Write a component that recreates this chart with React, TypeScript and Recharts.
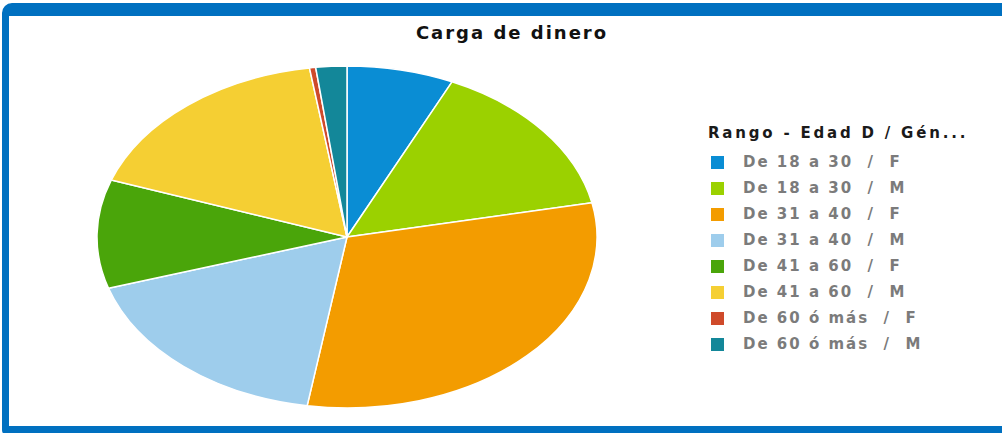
import { PieChart, Pie, Cell, Legend } from "recharts";

const categories = [
  "De 18 a 30 / F",
  "De 18 a 30 / M",
  "De 31 a 40 / F",
  "De 31 a 40 / M",
  "De 41 a 60 / F",
  "De 41 a 60 / M",
  "De 60 ó más / F",
  "De 60 ó más / M",
];
const values = [6.9, 14.9, 30.75, 17.6, 10.25, 17.2, 0.4, 2.0];
const colors = ["#0a8dd4", "#9bd100", "#f39c00", "#9ecdec", "#4aa50a", "#f5cf33", "#cf4a2a", "#138799"];

const data = categories.map((name, i) => ({ name, value: values[i] }));

// stretch the pie horizontally like the original (ellipse instead of circle)
const X_STRETCH = 1.462;

function EllipseSector(props: any) {
  const { cx, cy, outerRadius, startAngle, endAngle, fill } = props;
  const ry = outerRadius;
  const rx = outerRadius * X_STRETCH;
  const rad = Math.PI / 180;
  const x1 = cx + rx * Math.cos(startAngle * rad);
  const y1 = cy - ry * Math.sin(startAngle * rad);
  const x2 = cx + rx * Math.cos(endAngle * rad);
  const y2 = cy - ry * Math.sin(endAngle * rad);
  const large = Math.abs(startAngle - endAngle) > 180 ? 1 : 0;
  const sweep = endAngle < startAngle ? 1 : 0;
  const d = `M${cx},${cy} L${x1},${y1} A${rx},${ry} 0 ${large} ${sweep} ${x2},${y2} Z`;
  return <path d={d} fill={fill} stroke="#ffffff" strokeWidth={1.5} strokeLinejoin="round" />;
}

function LegendBox(props: any) {
  const { payload } = props;
  return (
    <div style={{ fontFamily: "DejaVu Sans", fontWeight: "bold" }}>
      <div style={{ fontSize: 15, color: "#1a1a1a", letterSpacing: 2.8, marginBottom: 7, whiteSpace: "nowrap" }}>
        Rango - Edad D / Gén...
      </div>
      {(payload || []).map((p: any) => (
        <div key={p.value} style={{ display: "flex", alignItems: "center", height: 26 }}>
          <span style={{ width: 13, height: 13, background: p.color, display: "inline-block", marginLeft: 3, marginRight: 19 }} />
          <span style={{ fontSize: 15, color: "#7b7b7b", letterSpacing: 2, whiteSpace: "pre" }}>
            {p.value.replace(" / ", "  /  ")}
          </span>
        </div>
      ))}
    </div>
  );
}

export default function App() {
  return (
    <div style={{ position: "fixed", left: 0, top: 0, width: 1002, height: 433, background: "#ffffff", overflow: "hidden" }}>
      {/* blue frame */}
      <div
        style={{
          position: "absolute",
          left: 2,
          top: 3,
          width: 1100,
          height: 410,
          borderStyle: "solid",
          borderColor: "#0070c0",
          borderWidth: "13px 6px 10px 7px",
          borderTopLeftRadius: 10,
          borderBottomLeftRadius: 6,
        }}
      />
      <div
        style={{
          position: "absolute",
          left: 0,
          width: 1024,
          top: 22,
          textAlign: "center",
          fontFamily: "DejaVu Sans",
          fontWeight: "bold",
          fontSize: 18,
          letterSpacing: 2,
          color: "#111",
        }}
      >
        Carga de dinero
      </div>
      <div style={{ position: "absolute", left: 0, top: 0 }}>
        <PieChart width={1002} height={433} margin={{ top: 0, right: 0, bottom: 0, left: 0 }}>
          <Pie
            data={data}
            dataKey="value"
            nameKey="name"
            cx={347}
            cy={237}
            outerRadius={171}
            startAngle={90}
            endAngle={-270}
            stroke="#ffffff"
            strokeWidth={1.5}
            shape={EllipseSector}
            isAnimationActive={false}
          >
            {data.map((d, i) => (
              <Cell key={d.name} fill={colors[i]} />
            ))}
          </Pie>
          <Legend
            layout="vertical"
            align="right"
            verticalAlign="top"
            content={LegendBox}
            wrapperStyle={{ left: 708, top: 124, width: 294 }}
          />
        </PieChart>
      </div>
    </div>
  );
}
